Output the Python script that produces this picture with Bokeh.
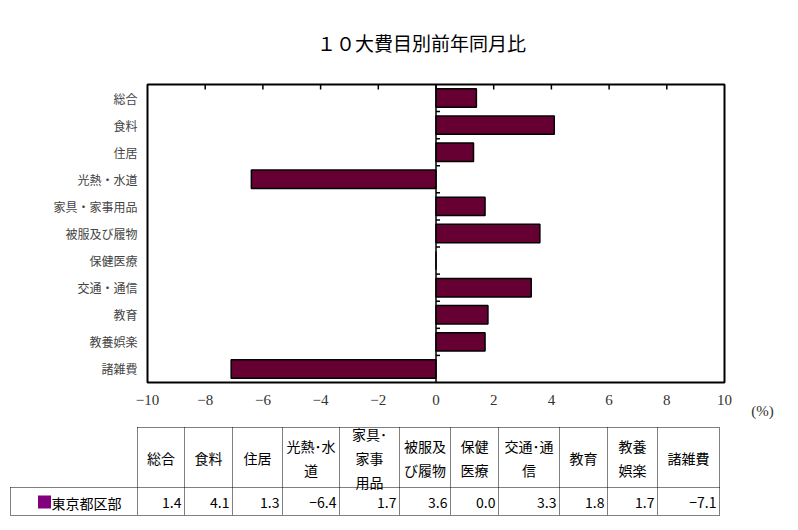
from bokeh.plotting import figure
from bokeh.models import Range1d
from bokeh.embed import file_html
from bokeh.resources import INLINE
from bokeh.core.properties import value

# ---------------- data ----------------
title_text = "１０大費目別前年同月比"
categories = ["総合", "食料", "住居", "光熱・水道", "家具・家事用品", "被服及び履物",
              "保健医療", "交通・通信", "教育", "教養娯楽", "諸雑費"]
values = [1.4, 4.1, 1.3, -6.4, 1.7, 3.6, 0.0, 3.3, 1.8, 1.7, -7.1]
table_headers = ["総合", "食料", "住居", "光熱･水\n道", "家具･\n家事\n用品", "被服及\nび履物",
                 "保健\n医療", "交通･通\n信", "教育", "教養\n娯楽", "諸雑費"]
series_name = "東京都区部"
x_ticks = [-10, -8, -6, -4, -2, 0, 2, 4, 6, 8, 10]
unit_label = "(%)"

JP = "Noto Sans CJK JP"
SERIF = "Liberation Serif"
n = len(categories)
pos = list(range(n))


def fmt_num(v, d=None):
    s = f"{v:.{d}f}" if d is not None else f"{v:g}"
    return s.replace("-", "−")


# ---------------- layout (pixels) ----------------
W, H = 798, 530
L, R, T, B = 147, 724, 84, 382          # chart frame
xs = (R - L) / (x_ticks[-1] - x_ticks[0])  # px per unit
ys = (B - T) / n                           # px per category band

p = figure(width=W, height=H,
           x_range=Range1d(x_ticks[0] - L / xs, x_ticks[-1] + (W - R) / xs),
           y_range=Range1d(n - 0.5 + (H - B) / ys, -0.5 - T / ys),
           output_backend="svg", toolbar_location=None,
           x_axis_location=None, y_axis_location=None,
           min_border=0, min_border_left=0, min_border_right=0,
           min_border_top=0, min_border_bottom=0)
p.grid.visible = False
p.outline_line_color = None
p.background_fill_color = "white"
p.border_fill_color = "white"
p.extra_x_ranges = {"px": Range1d(0, W)}
p.extra_y_ranges = {"px": Range1d(H, 0)}

# title
p.text(x=[421], y=[42], x_range_name="px", y_range_name="px", text=[title_text],
       text_align="center", text_baseline="middle", text_font=value(JP),
       text_font_size="19px", text_color="black")

# bars
p.hbar(y=pos, left=0, right=values, height=0.68, fill_color="#660033",
       line_color="black", line_width=1.5)

# zero line and its ticks (category boundaries)
p.segment(x0=[0], x1=[0], y0=[-0.5], y1=[n - 0.5], line_color="black", line_width=1.5)
bounds = [i + 0.5 for i in pos[:-1]]
p.segment(x0=[0] * len(bounds), x1=[4 / xs] * len(bounds), y0=bounds, y1=bounds,
          line_color="black", line_width=1.5)

# frame
p.quad(left=[x_ticks[0]], right=[x_ticks[-1]], top=[-0.5], bottom=[n - 0.5],
       fill_color=None, line_color="black", line_width=2)

# top inward ticks
inner = x_ticks[1:-1]
p.segment(x0=inner, x1=inner, y0=[T] * len(inner), y1=[T + 5] * len(inner),
          y_range_name="px", line_color="black", line_width=1.5)

# x tick labels
p.text(x=x_ticks, y=[399] * len(x_ticks), y_range_name="px",
       text=[fmt_num(t) for t in x_ticks], text_align="center", text_baseline="middle",
       text_font=value(SERIF), text_font_size="15px", text_color="#333333")
p.text(x=[762], y=[410], x_range_name="px", y_range_name="px", text=[unit_label],
       text_align="center", text_baseline="middle", text_font=value(SERIF),
       text_font_size="15px", text_color="#333333")

# category labels
p.text(x=[L - 10] * n, y=pos, x_range_name="px", text=categories,
       text_align="right", text_baseline="middle", text_font=value(JP),
       text_font_size="12px", text_color="#444444")

# ---------------- table ----------------
edges = [137, 184, 232, 282, 339, 399, 450, 498, 559, 607, 657, 719]
label_left = 10
row_top, row_mid, row_bot = 427, 487, 515

x0 = [edges[0], label_left, label_left] + edges + [label_left]
x1 = [edges[-1], edges[-1], edges[-1]] + edges + [label_left]
y0 = [row_top, row_mid, row_bot] + [row_top] * len(edges) + [row_mid]
y1 = [row_top, row_mid, row_bot] + [row_bot] * len(edges) + [row_bot]
p.segment(x0=x0, y0=y0, x1=x1, y1=y1, x_range_name="px", y_range_name="px",
          line_color="black", line_width=1, line_dash="1 1")

centers = [(a + b) / 2 for a, b in zip(edges[:-1], edges[1:])]
hy = (row_top + row_mid) / 2
dy = (row_mid + row_bot) / 2 + 1
p.text(x=centers, y=[hy] * n, x_range_name="px", y_range_name="px", text=table_headers,
       text_align="center", text_baseline="middle", text_font=value(JP),
       text_font_size="14px", text_color="black", text_line_height=1.2)
p.text(x=[e - 3 for e in edges[1:]], y=[dy] * n, x_range_name="px", y_range_name="px",
       text=[fmt_num(v, 1) for v in values], text_align="right", text_baseline="middle",
       text_font=value(JP), text_font_size="14px", text_color="black")
p.scatter(x=[44], y=[dy - 0.5], x_range_name="px", y_range_name="px", marker="square",
          size=13, fill_color="#800080", line_color=None)
p.text(x=[51], y=[dy], x_range_name="px", y_range_name="px", text=[series_name],
       text_align="left", text_baseline="middle", text_font=value(JP),
       text_font_size="14px", text_color="black")

open("out.html", "w").write(file_html(p, INLINE))
